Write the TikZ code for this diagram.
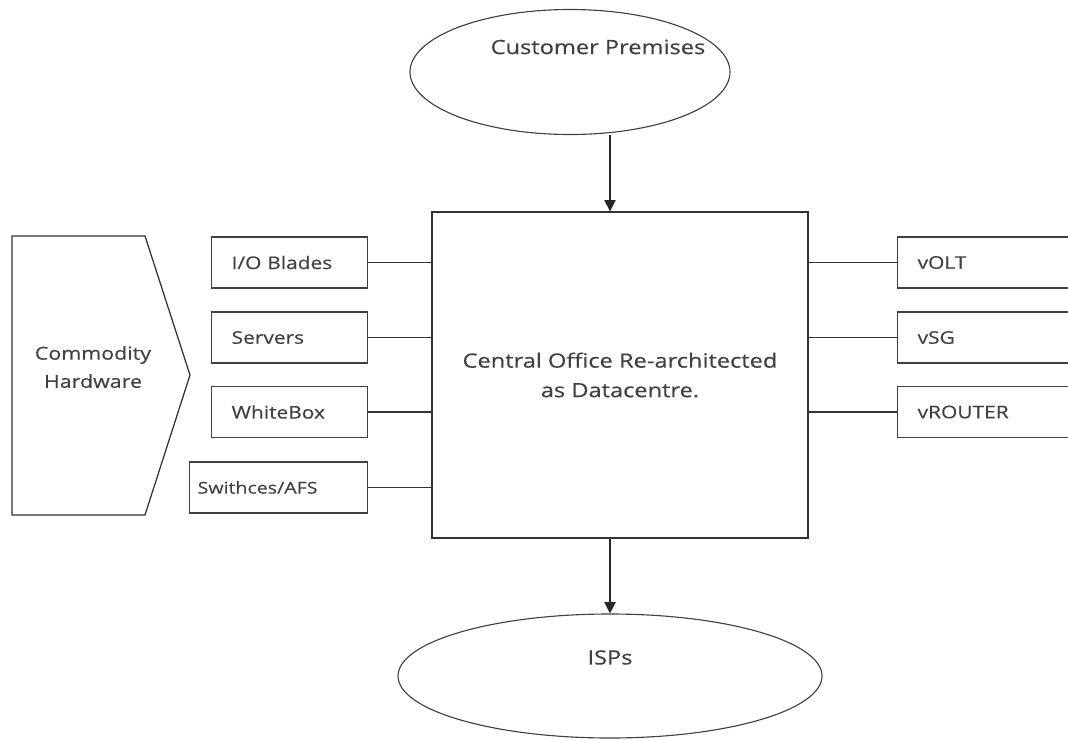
\documentclass[tikz,border=0pt]{standalone}
\usepackage{fontspec}
\setmainfont{Open Sans}[FakeStretch=1.2, FakeBold=0.4]
\usetikzlibrary{arrows.meta, positioning, calc, shapes}

\begin{document}
\begin{tikzpicture}[
    cloud/.style={ellipse, draw=black!75, line width=0.8pt},
    unit/.style={rectangle, draw=black!75, line width=0.9pt, minimum height=1.275cm, inner xsep=0.5cm, font=\fontsize{12.4}{15}\selectfont, text=black!75, align=left, anchor=west},
    core/.style={rectangle, draw=black!80, line width=0.9pt, minimum width=9.4cm, minimum height=8.15cm, font=\fontsize{14}{21}\selectfont, text=black!75, align=center},
    bigtext/.style={font=\fontsize{12.7}{20}\selectfont, text=black!75, align=center},
    link/.style={black!80, line width=0.9pt},
    flow/.style={-{Triangle[length=8pt,width=8pt]}, black!85, line width=0.9pt},
]

\clip (0,0) rectangle (26.7,-18.5);

% === CENTRAL OFFICE ===
\node[core] (cob) at (15.5,-9.375) {Central Office Re-architected\\as Datacentre.};

% === ENDPOINTS (ellipses) ===
\node[cloud, minimum width=8cm, minimum height=3.125cm,
      label={[bigtext, font=\fontsize{14}{18}\selectfont, anchor=center, xshift=0.7cm, yshift=-0.95cm]north:Customer Premises}] (cust) at (14.25,-1.8) {};
\node[cloud, minimum width=10.6cm, minimum height=3.1cm,
      label={[bigtext, font=\fontsize{14}{18}\selectfont, anchor=center, yshift=-1.1cm]north:ISPs}] (isps) at (15.25,-16.9) {};

\draw[flow] (cust.south -| isps.north) -- (cob.north -| isps.north);
\draw[flow] (cob.south -| isps.north) -- (isps.north);

% === COMMODITY HARDWARE ===
\draw[link] (0.3,-5.9) -- (3.625,-5.9) -- (4.75,-9.375) -- (3.625,-12.875) -- (0.3,-12.875) -- cycle;
\node[bigtext] (hw) at (2.325,-9.175) {Commodity\\Hardware};

% === HARDWARE UNITS (left) ===
\node[unit, minimum width=3.9cm, text width=2.9cm] (io) at (5.275,-6.5625) {I/O Blades};
\node[unit, minimum width=3.9cm, text width=2.9cm] (srv) at (5.275,-8.4375) {Servers};
\node[unit, minimum width=3.9cm, text width=2.9cm] (wbox) at (5.275,-10.3) {WhiteBox};
\node[unit, minimum width=4.45cm, inner xsep=0.2cm, text width=4.05cm, font=\fontsize{11.6}{13}\selectfont] (sw) at (4.725,-12.1875) {Swithces/AFS};

\foreach \u in {io,srv,wbox,sw} {
    \draw[link] (\u.east) -- (\u.east -| cob.west);
}

% === VIRTUAL FUNCTIONS (right) ===
\node[unit, minimum width=5cm, text width=4cm] (volt) at (22.425,-6.5625) {vOLT};
\node[unit, minimum width=5cm, text width=4cm] (vsg) at (22.425,-8.4375) {vSG};
\node[unit, minimum width=5cm, text width=4cm] (vrt) at (22.425,-10.3) {vROUTER};

\foreach \v in {volt,vsg,vrt} {
    \draw[link] (\v.west -| cob.east) -- (\v.west);
}

\end{tikzpicture}
\end{document}
